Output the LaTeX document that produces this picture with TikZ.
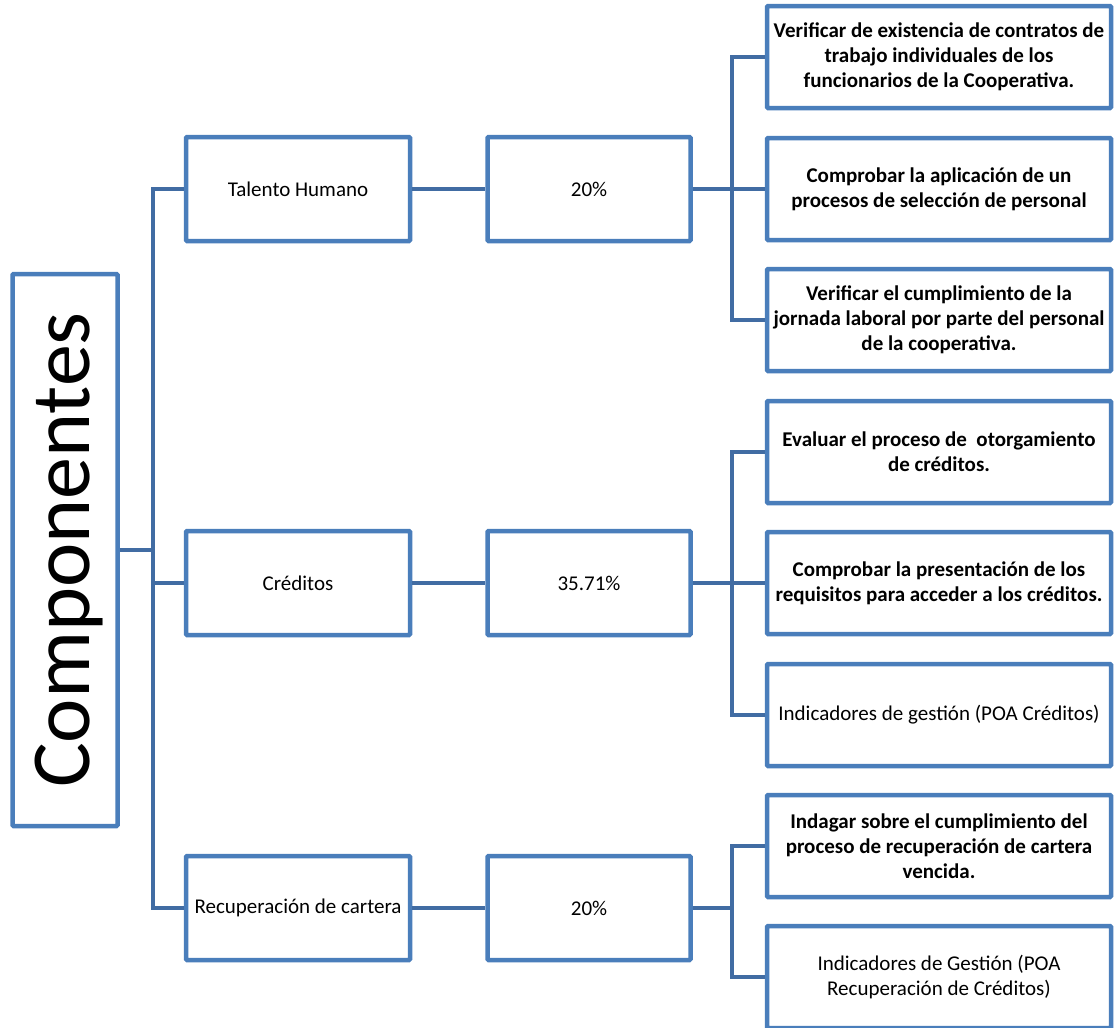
\documentclass[tikz,border=0pt]{standalone}
\usepackage{fontspec}
\setmainfont{Carlito}
\definecolor{boxblue}{RGB}{74,126,187}
\definecolor{lineblue}{RGB}{65,108,163}
\tikzset{
  box/.style={draw=boxblue, line width=4.5pt, rounded corners=1pt, fill=white,
    align=center, inner sep=2pt, font=\fontsize{21}{25}\selectfont},
  lvlone/.style={box, minimum width=224pt, minimum height=104pt},
  lvltwo/.style={box, minimum width=203pt, minimum height=104pt},
  lvlthree/.style={box, minimum width=344pt, minimum height=102pt},
  link/.style={draw=lineblue, line width=4.5pt}
}
\begin{document}
\begin{tikzpicture}[x=1pt,y=-1pt]
  \useasboundingbox (0,0) rectangle (1117,1028);
  % root
  \node[box, minimum width=105pt, minimum height=552pt] (root) at (65,550) {};
  \node[rotate=90, font=\fontsize{84}{90}\selectfont, inner sep=0pt] (roottext) at ([xshift=4pt]root.center) {Componentes};
  % first level
  \node[lvlone] (talento) at (298,189) {Talento Humano};
  \node[lvlone] (creditos) at (298,583) {Créditos};
  \node[lvlone] (recup) at (298,908) {Recuperación de cartera};
  % weights
  \node[lvltwo] (pesoa) at (589,189) {20\%};
  \node[lvltwo] (pesob) at (589,583) {35.71\%};
  \node[lvltwo] (pesoc) at (589,908) {20\%};
  % procedures
  \node[lvlthree] (proca) at (939,57) {\textbf{Verificar de existencia de contratos de}\\ \textbf{trabajo individuales de los}\\ \textbf{funcionarios de la Cooperativa.}};
  \node[lvlthree] (procb) at (939,189) {\textbf{Comprobar la aplicación de un}\\ \textbf{procesos de selección de personal}};
  \node[lvlthree] (procc) at (939,320) {\textbf{Verificar el cumplimiento de la}\\ \textbf{jornada laboral por parte del personal}\\ \textbf{de la cooperativa.}};
  \node[lvlthree] (procd) at (939,452) {\textbf{Evaluar el proceso de\ \ otorgamiento}\\ \textbf{de créditos.}};
  \node[lvlthree] (proce) at (939,583) {\textbf{Comprobar la presentación de los}\\ \textbf{requisitos para acceder a los créditos.}};
  \node[lvlthree] (procf) at (939,715) {Indicadores de gestión (POA Créditos)};
  \node[lvlthree] (procg) at (939,846) {\textbf{Indagar sobre el cumplimiento del}\\ \textbf{proceso de recuperación de cartera}\\ \textbf{vencida.}};
  \node[lvlthree] (proch) at (939,977) {Indicadores de Gestión (POA\\ Recuperación de Créditos)};
  % connectors
  \draw[link] (root.east) -- ++(33,0) coordinate (rootjoin);
  \draw[link] (talento.west) -| (rootjoin) |- (recup.west);
  \draw[link] (creditos.west) -- (creditos.west -| rootjoin);
  \draw[link] (talento) -- (pesoa);
  \draw[link] (creditos) -- (pesob);
  \draw[link] (recup) -- (pesoc);
  \draw[link] (pesoa.east) -- ++(39,0) coordinate (joina);
  \draw[link] (proca.west) -| (joina) |- (procc.west);
  \draw[link] (procb.west) -- (joina);
  \draw[link] (pesob.east) -- ++(39,0) coordinate (joinb);
  \draw[link] (procd.west) -| (joinb) |- (procf.west);
  \draw[link] (proce.west) -- (joinb);
  \draw[link] (pesoc.east) -- ++(39,0) coordinate (joinc);
  \draw[link] (procg.west) -| (joinc) |- (proch.west);
\end{tikzpicture}
\end{document}
